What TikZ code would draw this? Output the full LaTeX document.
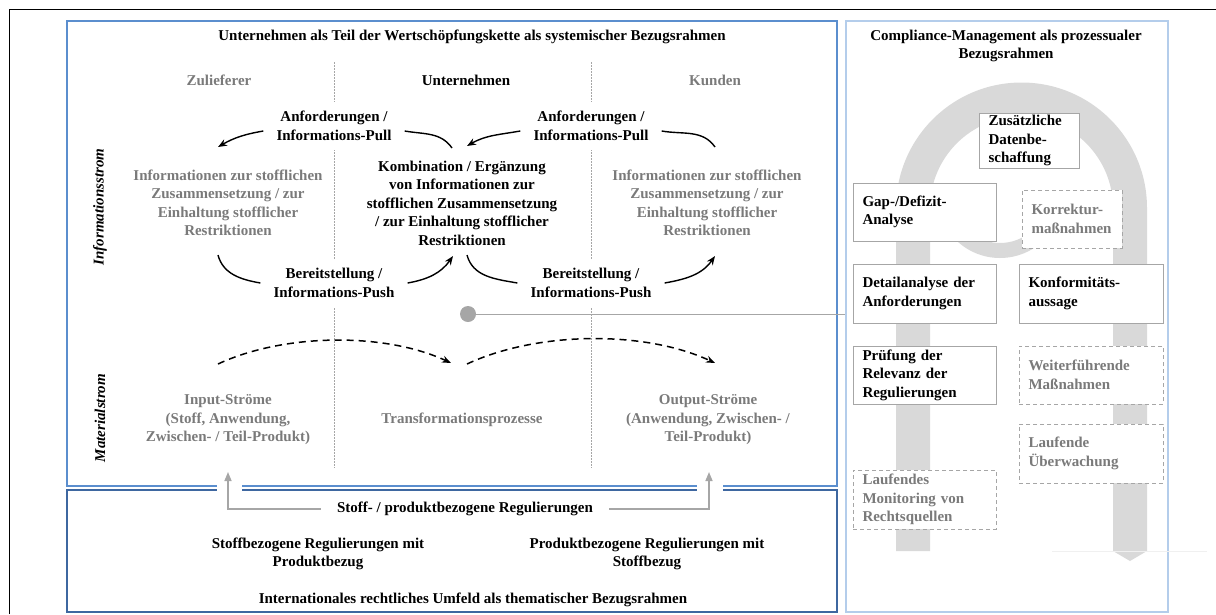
\documentclass[tikz,border=0pt]{standalone}
\usepackage{fontspec}
\setmainfont{Liberation Serif}
\usetikzlibrary{arrows.meta}
\definecolor{outerblue}{RGB}{91,142,206}
\definecolor{lawblue}{RGB}{62,103,160}
\definecolor{panelblue}{RGB}{180,205,235}
\definecolor{boxgray}{RGB}{166,166,166}
\definecolor{textgray}{RGB}{122,122,122}
\definecolor{bandgray}{RGB}{217,217,217}
\newcommand\figfont{\fontsize{15}{18.5}\selectfont\bfseries\hyphenpenalty=10000\relax}

\begin{document}
\begin{tikzpicture}[x=1pt,y=-1pt,
  every node/.style={font=\figfont, inner sep=0pt, align=center},
  muted/.style={text=textgray},
  midlabel/.style={fill=white, inner xsep=13pt, inner ysep=9pt},
  flow/.style={line width=1.4pt, -{Stealth[length=9pt,width=7pt]}},
  flowend/.style={line width=1.4pt},
  matflow/.style={line width=1.5pt, dash pattern=on 7pt off 5pt, -{Stealth[length=9pt,width=7pt]}},
  regarrow/.style={draw=boxgray, line width=1.5pt, -{Triangle[length=9pt,width=7pt]}},
  colsep/.style={draw=boxgray, line width=0.8pt, dash pattern=on 1.5pt off 1.5pt},
  pbox/.style={draw=boxgray, line width=1pt, fill=white, align=left, inner xsep=9.5pt, inner ysep=0pt, minimum height=58pt},
  wbox/.style={pbox, text width=124pt},
  rbox/.style={pbox, text width=125pt},
  nbox/.style={pbox, text width=81pt},
  opt/.style={dash pattern=on 4pt off 3pt, text=textgray}
]
\useasboundingbox (0,0) rectangle (1216,614);

% outer frame
\draw[line width=1.2pt] (9.5,614) -- (9.5,9.5) -- (1216,9.5);

% three frames
\draw[outerblue, line width=1.5pt] (67,21) rectangle (837,486);
\draw[lawblue, line width=1.5pt] (67,490) rectangle (837,612);
\node[draw=panelblue, line width=1.2pt, minimum width=322pt, minimum height=591pt] (panel) at (1007,316.5) {};

% column separators
\draw[colsep] (334,62) -- (334,468);
\draw[colsep] (591,62) -- (591,468);

% process band: arch with arrow end, and inner loop
\fill[bandgray] (896,551) -- (896,208) arc[start angle=180,end angle=0,radius=125.5pt]
  -- (1147,551) -- (1130,561) -- (1113,551) -- (1113,208)
  arc[start angle=0,end angle=180,radius=91.5pt] -- (930,551) -- cycle;
\fill[bandgray] (937,195) arc[start angle=180,end angle=330,radius=63pt]
  -- ([shift={(1000,195)}]330:48pt) arc[start angle=330,end angle=180,radius=48pt] -- cycle;
\draw[gray!12, line width=0.6pt] (1052,551) -- (1207,551);

% process steps
\node[nbox, minimum height=55pt] (zus) at (1029,140.5) {Zusätzliche\\Datenbe-\\schaffung};
\node[wbox] (gap) at (924.5,212) {Gap-/Defizit-\\Analyse};
\node[nbox, opt] (kor) at (1072,219) {Korrektur-\\maßnahmen};
\node[wbox, minimum height=59pt] (det) at (924.5,293.5) {Detailanalyse der\\Anforderungen};
\node[rbox, minimum height=59pt] (konf) at (1091,293.5) {Konformitäts-\\aussage};
\node[wbox] (pruef) at (924.5,375) {Prüfung der\\Relevanz der\\Regulierungen};
\node[rbox, opt] (weit) at (1091,375) {Weiterführende\\Maßnahmen};
\node[rbox, opt, minimum height=59pt] (ueber) at (1091,453.5) {Laufende\\Überwachung};
\node[wbox, opt, minimum height=59pt] (moni) at (924.5,499.5) {Laufendes\\Monitoring von\\Rechtsquellen};

% titles
\node (wsk) at (472,37) {Unternehmen als Teil der Wertschöpfungskette als systemischer Bezugsrahmen};
\node (cmt) at (1006,46) {Compliance-Management als prozessualer\\Bezugsrahmen};

% columns
\node[muted] (zul) at (219,80) {Zulieferer};
\node (unt) at (466,80) {Unternehmen};
\node[muted] (kun) at (715,80) {Kunden};

% row labels
\node[rotate=90, font=\figfont\itshape] (istrom) at (100,207) {Informationsstrom};
\node[rotate=90, font=\figfont\itshape] (mstrom) at (100,418) {Materialstrom};

% information flow
\node[midlabel] (pull1) at (334,126) {Anforderungen /\\Informations-Pull};
\node[midlabel] (pull2) at (591,126) {Anforderungen /\\Informations-Pull};
\node[muted] (zulinfo) at (228,203) {Informationen zur stofflichen\\Zusammensetzung / zur\\Einhaltung stofflicher\\Restriktionen};
\node (komb) at (462,203) {Kombination / Ergänzung\\von Informationen zur\\stofflichen Zusammensetzung\\/ zur Einhaltung stofflicher\\Restriktionen};
\node[muted] (kuninfo) at (707,203) {Informationen zur stofflichen\\Zusammensetzung / zur\\Einhaltung stofflicher\\Restriktionen};
\node[midlabel] (push1) at (334,283) {Bereitstellung /\\Informations-Push};
\node[midlabel] (push2) at (591,283) {Bereitstellung /\\Informations-Push};

\coordinate (zulPullIn) at (218,147);
\coordinate (kombPullOut) at (452,148);
\coordinate (kombPullIn) at (467,146);
\coordinate (kunPullOut) at (715,147);
\coordinate (zulPushOut) at (218,255);
\coordinate (kombPushIn) at (453,256);
\coordinate (kombPushOut) at (467,255);
\coordinate (kunPushIn) at (715,256);

\draw[flow] ([yshift=-5pt]pull1.west) to[out=190,in=30] (zulPullIn);
\draw[flowend] (kombPullOut) to[out=125,in=-10] ([yshift=-5pt]pull1.east);
\draw[flow] ([yshift=-5pt]pull2.west) to[out=190,in=30] (kombPullIn);
\draw[flowend] (kunPullOut) to[out=125,in=-10] ([yshift=-5pt]pull2.east);

\draw[flowend] (zulPushOut) to[out=-75,in=170] (push1.west);
\draw[flow] (push1.east) to[out=10,in=235] (kombPushIn);
\draw[flowend] (kombPushOut) to[out=-75,in=170] (push2.west);
\draw[flow] (push2.east) to[out=10,in=235] (kunPushIn);

% material flow
\node[muted] (input) at (228,420) {Input-Ströme\\(Stoff, Anwendung,\\Zwischen- / Teil-Produkt)};
\node[muted] (trans) at (462,420) {Transformationsprozesse};
\node[muted] (output) at (708,420) {Output-Ströme\\(Anwendung, Zwischen- /\\Teil-Produkt)};

\coordinate (matA) at (218,364);
\coordinate (matB) at (451,363);
\coordinate (matC) at (467,364);
\coordinate (matD) at (715,363);
\draw[matflow] (matA) to[out=25,in=155,looseness=0.8] (matB);
\draw[matflow] (matC) to[out=25,in=155,looseness=0.8] (matD);

% link to the process frame
\node[circle, fill=boxgray, minimum size=16pt] (dot) at (468,314) {};
\draw[boxgray, line width=1pt] (dot) -- (dot -| panel.west);

% legal environment
\node[inner xsep=16pt] (reg) at (465,509) {Stoff- / produktbezogene Regulierungen};
\node (stoffreg) at (318,554) {Stoffbezogene Regulierungen mit\\Produktbezug};
\node (prodreg) at (647,554) {Produktbezogene Regulierungen mit\\Stoffbezug};
\node (intl) at (473,600) {Internationales rechtliches Umfeld als thematischer Bezugsrahmen};

\fill[white] (217,481) rectangle (242,495);
\fill[white] (697,481) rectangle (723,495);
\coordinate (inTip) at (228,472);
\coordinate (outTip) at (709,472);
\draw[regarrow] (reg.west) -| (inTip);
\draw[regarrow] (reg.east) -| (outTip);
\end{tikzpicture}
\end{document}
